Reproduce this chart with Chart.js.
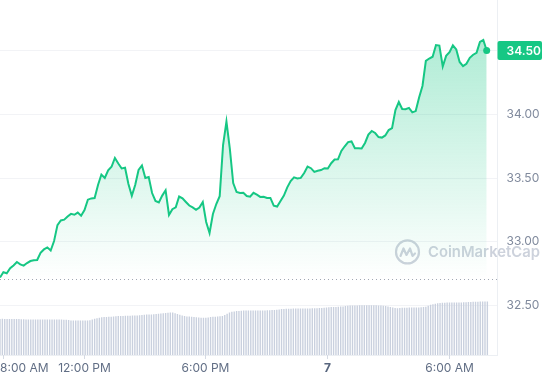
<!DOCTYPE html>
<html><head><meta charset="utf-8">
<script src="https://cdn.jsdelivr.net/npm/chart.js@4/dist/chart.umd.min.js"></script>
<style>html,body{margin:0;padding:0;background:#fff;overflow:hidden}#wrap{width:545px;height:380px;position:relative}canvas{display:block}</style>
</head><body><div id="wrap"><canvas id="c" width="545" height="380"></canvas></div>
<script>
// ---- data ----
const priceStartHour = 7 + 52/60;      // 7:52 AM
const priceStepMinutes = 10;
const prices = [
32.72,32.761,32.753,32.792,32.814,32.841,32.823,32.813,32.833,32.849,
32.855,32.857,32.914,32.940,32.956,32.931,33.006,33.131,33.167,33.173,
33.198,33.219,33.212,33.229,33.204,33.249,33.330,33.340,33.343,33.445,
33.527,33.500,33.561,33.588,33.657,33.614,33.575,33.581,33.453,33.360,
33.445,33.563,33.598,33.500,33.508,33.382,33.320,33.309,33.362,33.404,
33.210,33.255,33.270,33.355,33.341,33.312,33.284,33.270,33.251,33.269,
33.312,33.155,33.069,33.218,33.296,33.357,33.759,33.943,33.731,33.461,
33.390,33.382,33.385,33.359,33.354,33.384,33.369,33.352,33.353,33.343,
33.344,33.283,33.276,33.320,33.362,33.427,33.476,33.505,33.497,33.501,
33.539,33.590,33.577,33.548,33.557,33.562,33.577,33.575,33.616,33.645,
33.647,33.712,33.749,33.782,33.787,33.734,33.733,33.731,33.775,33.840,
33.869,33.853,33.821,33.817,33.834,33.876,33.891,34.033,34.096,34.041,
34.039,34.050,34.015,34.025,34.131,34.222,34.419,34.437,34.451,34.543,
34.539,34.375,34.458,34.486,34.541,34.508,34.410,34.378,34.396,34.443,
34.467,34.482,34.567,34.582,34.500
];
const volumeStepMinutes = 7;
const volumes = [
36,36.2,36,36.1,36,35.9,36,36.1,36,35.8,35.7,
35.6,35.5,35.5,35.4,35.5,35.5,35.6,35.5,35.4,35.5,35.5,35.5,35.4,35.5,35.5,35.4,35.3,35.2,35.0,
34.6,34.5,34.4,34.5,34.5,34.4,34.5,34.6,34.8,
35.5,36.2,36.8,37.3,
37.8,38,38.1,38.2,38.3,38.5,
38.8,39,39,39.1,39.2,39.2,39.3,39.4,39.5,39.6,39.8,40,40.2,
40.4,40.5,40.6,40.8,41,41.2,41.5,41.8,42,
42.3,42.5,42.4,41.8,
41,40.2,39.6,
39,38.6,38.4,38.2,38,
37.8,37.5,37.3,37.2,37.2,
37.5,38,38.2,38.3,38.4,38.7,39,
40,41.2,42.5,
43.2,43.6,43.9,44.1,
44.3,44.4,44.4,44.5,44.5,44.5,44.6,44.6,44.5,44.5,44.6,44.7,44.8,44.9,45,45.3,45.6,
45.9,46.1,46.2,46.3,46.3,46.4,46.4,46.5,46.5,46.5,46.6,46.6,46.6,46.7,46.7,46.8,46.9,47,47.2,
47.5,47.7,47.9,48,48.1,48.2,48.4,48.6,48.9,
49.2,49.4,49.5,49.6,49.6,49.7,49.7,49.7,49.8,49.8,49.8,49.7,49.7,49.6,49.5,49.3,49,
48.5,48,47.5,
47,46.8,46.9,
47.2,47.3,47.3,47.4,47.4,47.5,47.5,47.6,47.7,47.9,48.3,
49.2,50.2,50.8,51.3,
51.8,52,52.2,52.3,52.4,52.4,52.5,52.5,52.5,52.6,52.6,52.7,52.8,
53,53.1,53.2,53.3,53.3,53.4,53.4,53.5,53.5
];
const openPrice = 32.71;
const yTickValues = [32.5, 33, 33.5, 34, 34.5];
const xTickValues = [8, 12, 18, 24, 30];
const xTickLabels = ["8:00 AM", "12:00 PM", "6:00 PM", "7", "6:00 AM"];
const dayLabel = "7";
const watermarkText = "CoinMarketCap";

// ---- style ----
const GREEN = '#16c784';
const AXIS_GREY = '#808a9d';
const FONT = 'Inter, "Open Sans", sans-serif';

const priceData = prices.map((p, i) => ({x: priceStartHour + i * priceStepMinutes / 60, y: p}));
const volumeData = volumes.map((v, i) => ({x: priceStartHour + i * volumeStepMinutes / 60, y: v}));
const lastPrice = prices[prices.length - 1];

const deco = {
  id: 'deco',
  beforeDatasetsDraw(chart) {
    const {ctx, chartArea: a, scales} = chart;
    const yo = Math.round(scales.y.getPixelForValue(openPrice)) + 0.5;
    ctx.save();
    ctx.strokeStyle = '#a1a7b3';
    ctx.lineWidth = 1;
    ctx.setLineDash([1, 3]);
    ctx.beginPath(); ctx.moveTo(a.left, yo); ctx.lineTo(a.right, yo); ctx.stroke();
    ctx.restore();
    ctx.save();
    const wy = scales.y.getPixelForValue(32.92);
    const lx = a.right - 90;
    ctx.strokeStyle = '#cdd2dc';
    ctx.lineWidth = 2.2;
    ctx.beginPath(); ctx.arc(lx, wy, 11.5, 0, Math.PI * 2); ctx.stroke();
    ctx.lineJoin = 'round'; ctx.lineCap = 'round';
    ctx.beginPath();
    ctx.moveTo(lx - 7, wy + 4);
    ctx.lineTo(lx - 4, wy - 3.5);
    ctx.lineTo(lx - 1, wy + 3);
    ctx.lineTo(lx + 2.5, wy - 3.5);
    ctx.lineTo(lx + 5, wy + 4);
    ctx.lineTo(lx + 7.5, wy + 1.5);
    ctx.stroke();
    ctx.fillStyle = '#cdd2dc';
    ctx.font = '600 15px ' + FONT;
    ctx.textBaseline = 'middle';
    ctx.textAlign = 'left';
    ctx.fillText(watermarkText, lx + 20.5, wy + 0.5, 112);
    ctx.restore();
  },
  afterDraw(chart) {
    const {ctx, chartArea: a, scales, width} = chart;
    ctx.save();
    xTickValues.forEach((v, i) => {
      const px = Math.round(scales.x.getPixelForValue(v)) + 0.5;
      ctx.strokeStyle = '#d5dae3';
      ctx.lineWidth = 1;
      ctx.beginPath(); ctx.moveTo(px, a.bottom); ctx.lineTo(px, a.bottom + 4); ctx.stroke();
      const lab = xTickLabels[i];
      const bold = lab === dayLabel;
      ctx.font = (bold ? '700 ' : '400 ') + '12px ' + FONT;
      ctx.fillStyle = bold ? '#58667e' : '#616e85';
      const w = ctx.measureText(lab).width;
      let left = px - w / 2;
      if (left < 0) left = 0;
      if (left + w > width) left = width - w;
      ctx.textBaseline = 'middle';
      ctx.textAlign = 'left';
      ctx.fillText(lab, left, a.bottom + 13.5);
    });
    const yl = scales.y.getPixelForValue(lastPrice);
    ctx.fillStyle = GREEN;
    ctx.beginPath();
    ctx.roundRect(a.right, yl - 9.5, width - 3 - a.right, 19, 2);
    ctx.fill();
    ctx.fillStyle = '#ffffff';
    ctx.font = '600 12px ' + FONT;
    ctx.textBaseline = 'middle';
    ctx.textAlign = 'left';
    ctx.fillText(lastPrice.toFixed(2), a.right + 9, yl + 0.5);
    ctx.restore();
  }
};

new Chart(document.getElementById('c'), {
  type: 'line',
  data: {
    datasets: [
      {
        type: 'line',
        data: priceData,
        yAxisID: 'y',
        order: 1,
        borderColor: GREEN,
        borderWidth: 2,
        tension: 0,
        fill: {value: openPrice},
        backgroundColor: (c) => {
          const ch = c.chart;
          if (!ch.chartArea) return 'rgba(22,199,132,0.15)';
          const y = ch.scales.y;
          const g = ch.ctx.createLinearGradient(0, y.getPixelForValue(34.6), 0, y.getPixelForValue(openPrice));
          g.addColorStop(0, 'rgba(22,199,132,0.34)');
          g.addColorStop(1, 'rgba(22,199,132,0.0)');
          return g;
        },
        pointRadius: (c) => c.dataIndex === prices.length - 1 ? 3.5 : 0,
        pointBackgroundColor: GREEN,
        pointBorderWidth: 0,
        pointHoverRadius: 0
      },
      {
        type: 'bar',
        data: volumeData,
        yAxisID: 'yv',
        order: 2,
        backgroundColor: '#c9d0de',
        barPercentage: 0.58,
        categoryPercentage: 1
      }
    ]
  },
  options: {
    responsive: false,
    animation: false,
    devicePixelRatio: 1,
    layout: {padding: 0, autoPadding: false},
    plugins: {legend: {display: false}, tooltip: {enabled: false}},
    scales: {
      x: {
        type: 'linear',
        offset: false,
        bounds: 'data',
        min: priceStartHour,
        max: 32.4,
        grid: {display: false, offset: false},
        ticks: {display: false},
        border: {display: true, color: '#eceff3'},
        afterFit(s) { s.height = 25; s.paddingLeft = 0; s.paddingRight = 0; }
      },
      y: {
        position: 'right',
        min: 32.112,
        max: 34.896,
        afterBuildTicks(s) { s.ticks = yTickValues.map(v => ({value: v})); },
        ticks: {
          callback: (v) => Number(v).toFixed(2),
          color: AXIS_GREY,
          font: {family: FONT, size: 12},
          padding: 9
        },
        grid: {color: '#f2f3f6', drawTicks: false},
        border: {display: true, color: '#eceff3'},
        afterFit(s) { s.width = 47.5; s.paddingTop = 0; s.paddingBottom = 0; }
      },
      yv: {
        display: false,
        min: 0,
        max: 355
      }
    }
  },
  plugins: [deco]
});
</script>
</body></html>
